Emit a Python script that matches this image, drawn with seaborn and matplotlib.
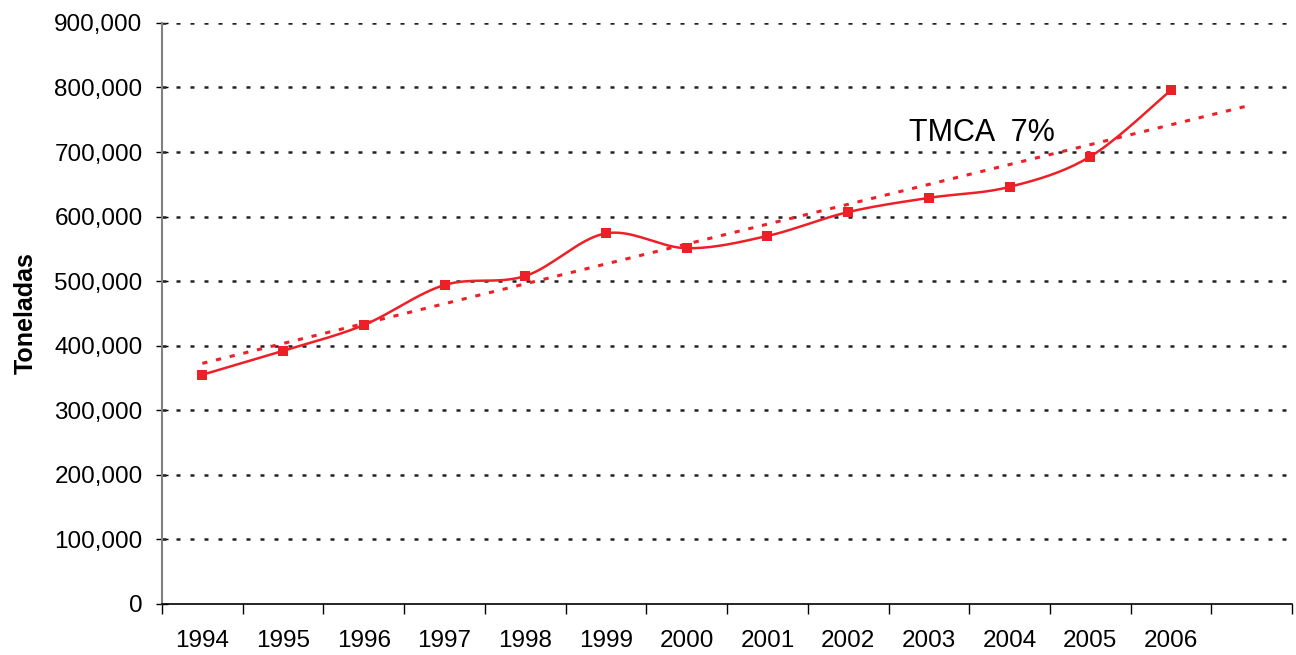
import numpy as np
import pandas as pd
import matplotlib
matplotlib.use("Agg")
import matplotlib.pyplot as plt
import seaborn as sns
from matplotlib.ticker import FuncFormatter

years = ["1994", "1995", "1996", "1997", "1998", "1999", "2000",
         "2001", "2002", "2003", "2004", "2005", "2006"]
toneladas = [355000, 392000, 432000, 494000, 508000, 574000, 551000,
             570000, 607000, 629000, 646000, 693000, 796000]
y_ticks = [0, 100000, 200000, 300000, 400000, 500000, 600000,
           700000, 800000, 900000]
annotation = "TMCA  7%"
y_label = "Toneladas"

sns.set_theme(style="white")
plt.rcParams['font.family'] = ['Liberation Sans', 'DejaVu Sans']
plt.rcParams['text.color'] = 'black'
plt.rcParams['xtick.color'] = 'black'
plt.rcParams['ytick.color'] = 'black'
plt.rcParams['axes.labelcolor'] = 'black'

RED = "#EE2027"

x = np.arange(len(years), dtype=float)
y = np.array(toneladas, dtype=float)

# Excel-style smoothed line (Catmull-Rom Bezier through data points)
def smooth(xp, yp, n=20):
    px = np.concatenate([[xp[0]], xp, [xp[-1]]])
    py = np.concatenate([[yp[0]], yp, [yp[-1]]])
    xs, ys = [], []
    for i in range(1, len(px) - 2):
        p0 = np.array([px[i - 1], py[i - 1]])
        p1 = np.array([px[i], py[i]])
        p2 = np.array([px[i + 1], py[i + 1]])
        p3 = np.array([px[i + 2], py[i + 2]])
        c1 = p1 + (p2 - p0) / 6.0
        c2 = p2 - (p3 - p1) / 6.0
        t = np.linspace(0, 1, n, endpoint=(i == len(px) - 3))
        b = ((1 - t) ** 3)[:, None] * p1 + (3 * (1 - t) ** 2 * t)[:, None] * c1 \
            + (3 * (1 - t) * t ** 2)[:, None] * c2 + (t ** 3)[:, None] * p2
        xs.extend(b[:, 0]); ys.extend(b[:, 1])
    return np.array(xs), np.array(ys)

sx, sy = smooth(x, y)

# linear trendline, forecast one period forward
coef = np.polyfit(x, y, 1)
tx = np.array([0.0, len(years)])
ty = np.polyval(coef, tx)

fig = plt.figure(figsize=(12.96, 6.55), dpi=100)
ax = fig.add_axes([0.125, 0.078, 0.872, 0.887])

sns.lineplot(x=tx, y=ty, ax=ax, color=RED, linewidth=2.2,
             linestyle=(0, (1.7, 2.9)), zorder=2)
sns.lineplot(x=sx, y=sy, ax=ax, color=RED, linewidth=1.8, zorder=3, sort=False)
sns.scatterplot(x=x, y=y, ax=ax, color=RED, marker="s", s=62,
                edgecolor=RED, linewidth=0, zorder=4)

ax.set_xlim(-0.5, len(years) + 0.5)
ax.set_ylim(0, 900000)
ax.set_yticks(y_ticks)
ax.yaxis.set_major_formatter(FuncFormatter(lambda v, p: f"{int(v):,}"))

# category axis: ticks between categories, labels centered
ax.set_xticks(np.arange(-0.5, len(years) + 1.0, 1.0))
ax.set_xticklabels([])
ax.set_xticks(x, minor=True)
ax.set_xticklabels(years, minor=True)
ax.tick_params(axis="x", which="minor", bottom=True, length=0, pad=19,
               labelsize=17.5)
ax.tick_params(axis="x", which="major", bottom=True, length=7, width=1,
               direction="out", color="black")
ax.tick_params(axis="y", which="major", left=True, length=8, width=1,
               direction="inout", color="black", labelsize=17.5, pad=10)

for v in y_ticks[1:]:
    ax.axhline(v, color="#222222", linewidth=1.8, linestyle=(0, (1.6, 4.0)),
               zorder=1, xmin=0, xmax=1)

for side in ["top", "right"]:
    ax.spines[side].set_visible(False)
ax.spines["left"].set_color("#808080")
ax.spines["left"].set_linewidth(1.5)
ax.spines["bottom"].set_color("black")
ax.spines["bottom"].set_linewidth(1.2)

ax.set_ylabel(y_label, fontsize=18, fontweight="bold", labelpad=12)
ax.set_xlabel("")

ax.text(8.75, 706000, annotation, fontsize=22, color="black",
        ha="left", va="bottom")

fig.savefig("out.png", dpi=100)
